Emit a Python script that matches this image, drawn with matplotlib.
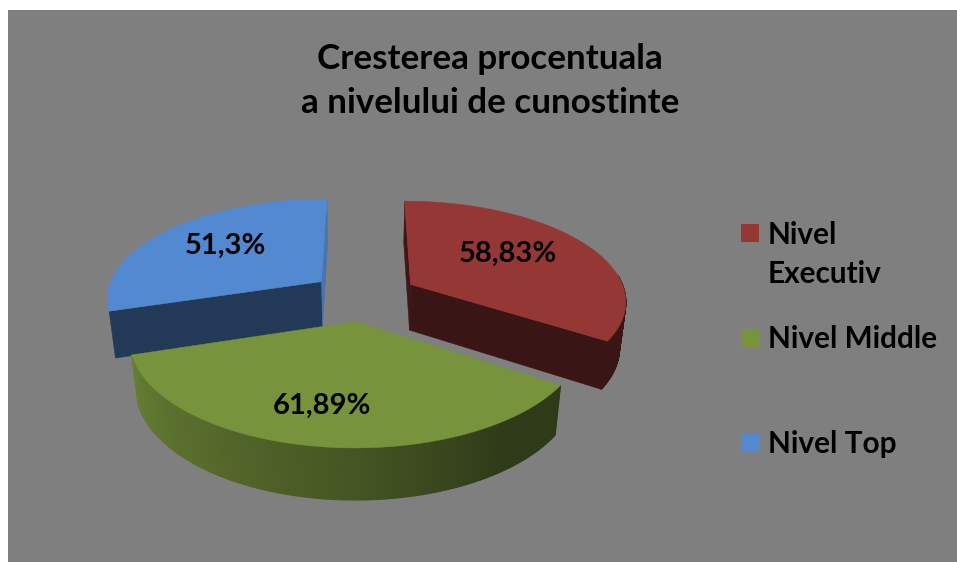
#!/usr/bin/env python3
"""
Exploded 3D pie: level of knowledge growth
"""

import numpy as np
import matplotlib
matplotlib.use('Agg')
import matplotlib.pyplot as plt
from matplotlib.patches import Rectangle

# Data
labels = ['Nivel\nExecutiv', 'Nivel Middle', 'Nivel Top']
values = [58.83, 61.89, 51.3]
value_texts = ['58,83%', '61,89%', '51,3%']
colors = ['#953735', '#77933C', '#5289D0']
title = 'Cresterea procentuala\na nivelului de cunostinte'

# Projection of the pie disc on the picture (pixels)
CX, CY = 364, 296
RX, RY = 215.6, 99
PERSP = 0.15
DEPTH = 47.4
DEPTH_W = 0.025
EXPLODE = 0.25

BG = '#7F7F7F'
FONT = 'Lato'


def project(u, v, low=False):
    """disc coords to pixels, low=True gives the underside of the pie"""
    w = 1 + PERSP * v + (DEPTH_W if low else 0)
    x = CX + RX * u / w
    y = CY + (-RY * v + (DEPTH if low else 0)) / w
    return x, y


def shade(color, f):
    return tuple(c * f for c in matplotlib.colors.to_rgb(color))


def rim_shade(deg):
    # light falls from the left, front right of the pie is darkest
    deg = ((deg + 180) % 360) - 180
    return np.interp(deg, [-180, -163, -130, -90, -55, -33, 180],
                     [0.85, 0.85, 0.74, 0.58, 0.40, 0.39, 0.39])


fig = plt.figure(figsize=(9.57, 5.62), dpi=100, facecolor='white')
ax = fig.add_axes([0, 0, 1, 1])
ax.set_xlim(0, 957)
ax.set_ylim(562, 0)
ax.axis('off')
ax.add_patch(Rectangle((8, 10), 949, 552, facecolor=BG, edgecolor='none'))

# Slices go clockwise from 12 o'clock
sweeps = np.array(values) / np.sum(values) * 360
ends = 90 - np.cumsum(sweeps)
starts = ends + sweeps

# Shade of the two cut faces (first edge, last edge), None = hidden
face_shades = [(0.42, 0.39), (None, None), (0.42, 0.85)]
# The blue slice shows no rim from this side
draw_rim = [True, True, False]

# Far slices first, the green one sits in front
for i in [2, 0, 1]:
    mid = np.radians((starts[i] + ends[i]) / 2)
    ou, ov = EXPLODE * np.cos(mid), EXPLODE * np.sin(mid)
    angles = np.radians(np.linspace(starts[i], ends[i], int(sweeps[i]) * 2 + 1))
    u = ou + np.cos(angles)
    v = ov + np.sin(angles)

    # outer rim, small quads, only the part turned to the viewer
    for j in range(len(angles) - 1):
        if not draw_rim[i] or np.sin(angles[j]) > 0.1:
            continue
        q = [project(u[j], v[j]), project(u[j + 1], v[j + 1]),
             project(u[j + 1], v[j + 1], True), project(u[j], v[j], True)]
        f = rim_shade(np.degrees(angles[j]))
        ax.fill(*zip(*q), color=shade(colors[i], f), lw=0.8)

    # cut faces
    for k, edge in enumerate([0, -1]):
        if face_shades[i][k] is None:
            continue
        fs = [project(ou, ov), project(u[edge], v[edge]),
              project(u[edge], v[edge], True), project(ou, ov, True)]
        ax.fill(*zip(*fs), color=shade(colors[i], face_shades[i][k]), lw=0.3)

    # top surface
    px, py = project(np.r_[ou, u], np.r_[ov, v])
    ax.fill(px, py, color=colors[i], lw=0.3)

# Value labels
label_pos = [(508, 254), (322, 406), (225, 246)]
for (lx, ly), txt in zip(label_pos, value_texts):
    ax.text(lx, ly, txt, ha='center', va='center', fontsize=21,
            fontweight='bold', family=FONT, color='black')

# Legend
legend_y = [233, 338, 443]
text_y = [254.5, 339, 444.5]
for i in range(3):
    ax.add_patch(Rectangle((741, legend_y[i] - 9), 18, 18,
                           facecolor=colors[i], edgecolor='none'))
    ax.text(768, text_y[i], labels[i], ha='left', va='center', fontsize=21.4,
            fontweight='bold', family=FONT, color='black', linespacing=1.5)

# Title
ax.text(490, 81, title, ha='center', va='center', fontsize=25.2,
        fontweight='bold', family=FONT, color='black', linespacing=1.48)

fig.savefig('out.png', dpi=100, facecolor='white')
